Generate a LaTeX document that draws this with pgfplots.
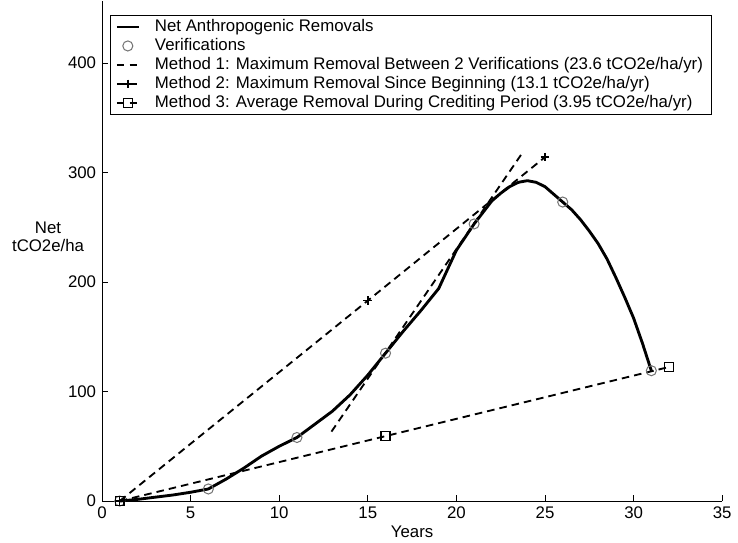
\documentclass[border=0pt]{standalone}
\usepackage{fontspec}
\setmainfont{Liberation Sans}
\usepackage{pgfplots}
\pgfplotsset{compat=1.18}

\begin{document}
\begin{tikzpicture}
\path[use as bounding box] (-60.7pt,-24.4pt) rectangle (378.4pt,298.1pt);
\begin{axis}[
  at={(0pt,0pt)}, anchor=south west,
  scale only axis, width=369pt, height=297.8pt,
  xmin=0, xmax=35, ymin=0, ymax=457,
  clip=false,
  axis lines=left, axis line style={-, line width=0.5pt},
  xtick={0,5,...,35}, ytick={0,100,...,400},
  tick align=inside, major tick length=3.5pt,
  tick style={line width=0.5pt, black},
  /pgf/number format/assume math mode=true,
  ticklabel style={font=\fontsize{10}{12}\selectfont},
  xlabel={Years},
  ylabel={Net\\tCO2e/ha},
  every axis x label/.style={at={(axis description cs:0.5,0)}, anchor=center, yshift=-18.4pt, font=\fontsize{10}{12}\selectfont},
  every axis y label/.style={at={(axis description cs:-0.087,0.528)}, anchor=center, align=center, font=\fontsize{10}{11}\selectfont},
  legend style={at={(axis description cs:0.0129,0.971)}, anchor=north west, draw=black, line width=0.5pt,
    inner xsep=3pt, inner ysep=1.2pt, font=\fontsize{10}{12}\selectfont, row sep=0pt,
    nodes={inner xsep=1.8pt, inner ysep=1pt, text height=7.3pt, text depth=2pt}},
  legend cell align=left,
  legend image code/.code={\draw[mark repeat=2,mark phase=2,#1] plot coordinates {(0pt,0pt) (6.5pt,0pt) (13pt,0pt)}; \path (20pt,0pt);},
]
\addplot[black, line width=1.7pt, line join=round] coordinates {
(1,0) (2,1.5) (3,3.5) (4,5.5) (5,8) (6,11) (7,20) (8,30) (9,41) (10,50)
(11,58) (12,70) (13,82) (14,97) (15,115) (16,135) (17,155) (18,174) (19,194) (20,229)
(21,253) (22,274) (22.5,281) (23,287) (23.5,291) (24,292.5) (24.5,291) (25,287) (26,273) (26.5,266) (27,257) (27.5,246.5) (28,235)
(28.5,221) (29,204) (29.5,186) (30,167) (30.5,144) (31,119)
};
\addlegendentry{Net Anthropogenic Removals}
\addplot[only marks, mark=o, mark size=3pt, color=black!55, mark options={line width=0.6pt}] coordinates {
(1,0) (6,11) (11,58) (16,135) (21,253) (26,273) (31,119)
};
\addlegendentry{Verifications}
\addplot[black, line width=1.1pt, dash pattern=on 4.5pt off 3pt] coordinates {(12.95,63.4) (23.8,319.7)};
\addlegendentry{Method 1: Maximum Removal Between 2 Verifications (23.6 tCO2e/ha/yr)}
\addplot[black, line width=1.1pt, dash pattern=on 4.5pt off 3pt, mark=+, mark size=2.6pt, mark options={solid, line width=0.9pt}] coordinates {(1,0) (15,183) (25,314)};
\addlegendentry{Method 2: Maximum Removal Since Beginning (13.1 tCO2e/ha/yr)}
\addplot[black, line width=1.1pt, dash pattern=on 4.5pt off 3pt, mark=square, mark size=2.6pt, mark options={solid, line width=0.8pt}] coordinates {(1,0) (16,59.25) (32,122.4)};
\addlegendentry{Method 3: Average Removal During Crediting Period (3.95 tCO2e/ha/yr)}
\end{axis}
\end{tikzpicture}
\end{document}
